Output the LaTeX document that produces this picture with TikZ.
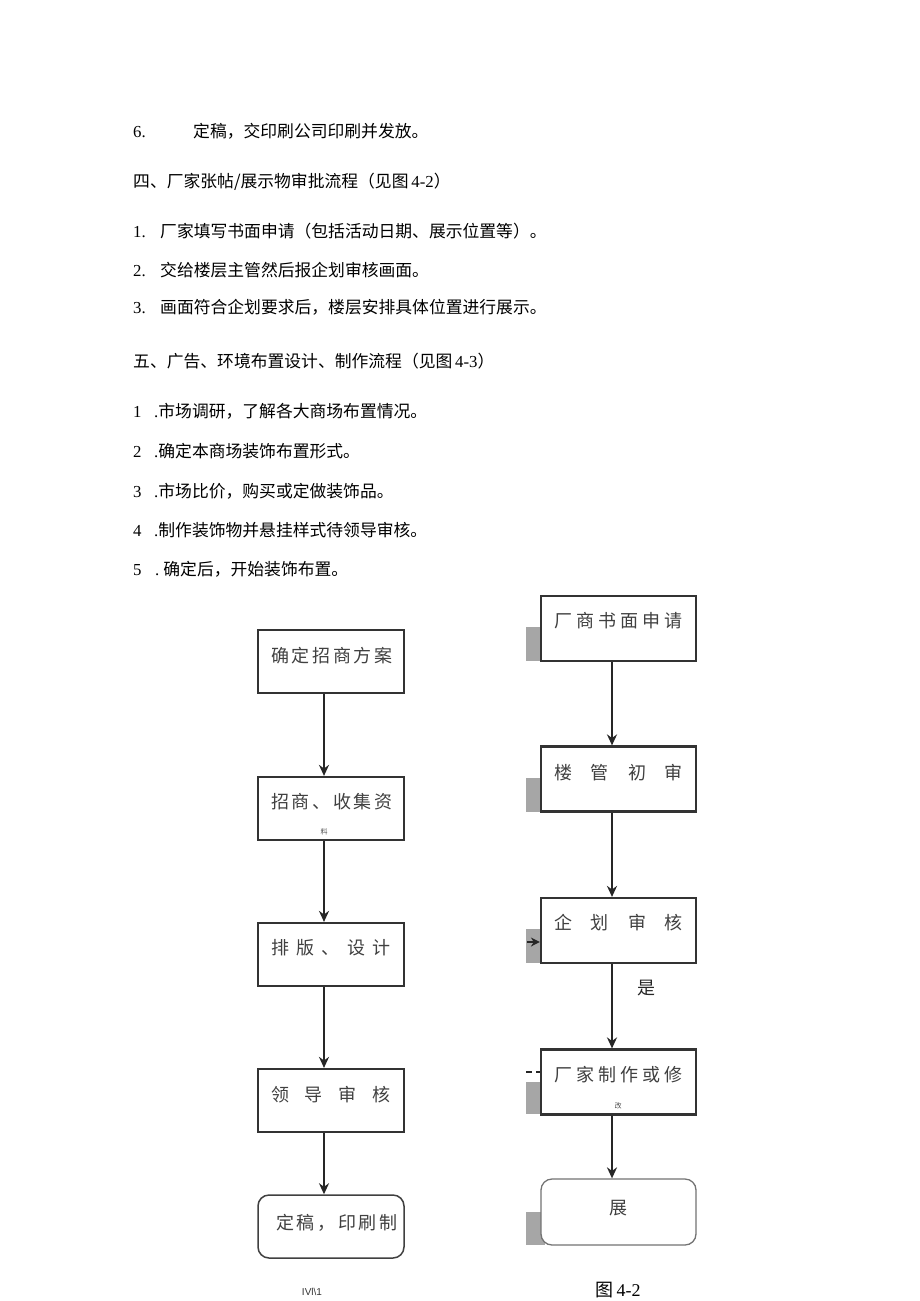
\documentclass[tikz,border=0pt]{standalone}
\usepackage{fontspec}
\setmainfont{Liberation Serif}
\newfontfamily\cjk{Noto Sans CJK SC}
\setsansfont{Liberation Sans}
\usetikzlibrary{arrows.meta}
\newcommand\zh[1]{{\cjk #1}}
\begin{document}
\begin{tikzpicture}[x=1pt,y=-1pt,
  txt/.style={anchor=west,inner sep=0pt,font=\fontsize{16.8}{16.8}\selectfont},
  lbox/.style={draw=black!80,line width=2.2pt,minimum width=146pt,minimum height=63pt,inner sep=0pt},
  rbox/.style={draw=black!80,line width=2.2pt,minimum width=155pt,minimum height=65pt,inner sep=0pt},
  lround/.style={draw=black!75,line width=1.5pt,rounded corners=11pt,minimum width=146pt,minimum height=63pt,inner sep=0pt},
  rround/.style={draw=black!55,line width=1.3pt,rounded corners=11pt,minimum width=155pt,minimum height=66pt,inner sep=0pt},
  blbl/.style={inner sep=0pt,text=black!75,font=\cjk\fontsize{18}{18}\selectfont},
  tiny/.style={inner sep=0pt,text=black!70,font=\cjk\fontsize{7}{7}\selectfont},
  arr/.style={line width=1.9pt,draw=black!85,-{Stealth[length=11pt,width=10pt]}},
  shadow/.style={fill=black!35,draw=none}
]
\useasboundingbox (0,0) rectangle (920,1301);
\fill[white] (0,0) rectangle (920,1301);

% body text
\node[txt] (l6) at (133,131) {\makebox[60pt][l]{6.}\zh{定稿，交印刷公司印刷并发放。}};
\node[txt] (h4) at (133,182) {\zh{四、厂家张帖/展示物审批流程（见图}\,4-2\zh{）}};
\node[txt] (a1) at (133,231) {\makebox[27pt][l]{1.}\zh{厂家填写书面申请（包括活动日期、展示位置等）。}};
\node[txt] (a2) at (133,270) {\makebox[27pt][l]{2.}\zh{交给楼层主管然后报企划审核画面。}};
\node[txt] (a3) at (133,307) {\makebox[27pt][l]{3.}\zh{画面符合企划要求后，楼层安排具体位置进行展示。}};
\node[txt] (h5) at (133,361) {\zh{五、广告、环境布置设计、制作流程（见图}\,4-3\zh{）}};
\node[txt] (b1) at (133,411) {\makebox[21pt][l]{1}.\zh{市场调研，了解各大商场布置情况。}};
\node[txt] (b2) at (133,451) {\makebox[21pt][l]{2}.\zh{确定本商场装饰布置形式。}};
\node[txt] (b3) at (133,491) {\makebox[21pt][l]{3}.\zh{市场比价，购买或定做装饰品。}};
\node[txt] (b4) at (133,530) {\makebox[21pt][l]{4}.\zh{制作装饰物并悬挂样式待领导审核。}};
\node[txt] (b5) at (133,569) {\makebox[22pt][l]{5}.\hspace{4pt}\zh{确定后，开始装饰布置。}};

% left flowchart
\coordinate (axL) at (324,0);
\node[lbox] (L1) at (331,661.5) {};
\node[lbox] (L2) at (331,808.5) {};
\node[lbox] (L3) at (331,954.5) {};
\node[lbox] (L4) at (331,1100.5) {};
\node[lround] (L5) at (331,1226.5) {};
\node[blbl] (L1t) at (331,656) {\makebox[120pt][s]{确 定 招 商 方 案}};
\node[blbl] (L2t) at (331,802) {\makebox[120pt][s]{招 商 、 收 集 资}};
\node[tiny] (L2s) at (324,832) {料};
\node[blbl] (L3t) at (331,948) {\makebox[120pt][s]{排 版 、 设 计}};
\node[blbl] (L4t) at (331,1095) {\makebox[120pt][s]{领 导 审 核}};
\node[blbl] (L5t) at (331,1223) {\makebox[110pt][s]{定 稿 ， 印 刷 制}};
\draw[arr] (L1.south -| axL) -- (L2.north -| axL);
\draw[arr] (L2.south -| axL) -- (L3.north -| axL);
\draw[arr] (L3.south -| axL) -- (L4.north -| axL);
\draw[arr] (L4.south -| axL) -- (L5.north -| axL);
\node[inner sep=0pt,font=\sffamily\fontsize{10}{10}\selectfont,text=black!80] (capL) at (312,1292) {IVl\textbackslash1};

% right flowchart shadows
\fill[shadow] (526,627) rectangle (541,661);
\fill[shadow] (526,778) rectangle (541,812);
\fill[shadow] (526,929) rectangle (541,963);
\fill[shadow] (526,1082) rectangle (541,1114);
\fill[shadow] (526,1212) rectangle (545,1245);

% right flowchart
\coordinate (axR) at (612,0);
\node[rbox] (R1) at (618.5,628.5) {};
\node[rbox] (R2) at (618.5,779) {};
\node[rbox] (R3) at (618.5,930.5) {};
\node[rbox] (R4) at (618.5,1082) {};
\node[rround,fill=white] (R5) at (618.5,1212) {};
\node[blbl] (R1t) at (618.5,621) {\makebox[129pt][s]{厂 商 书 面 申 请}};
\node[blbl] (R2t) at (618.5,773) {\makebox[129pt][s]{楼 管 初 审}};
\node[blbl] (R3t) at (618.5,923) {\makebox[129pt][s]{企 划 审 核}};
\node[blbl] (R4t) at (618.5,1075) {\makebox[129pt][s]{厂 家 制 作 或 修}};
\node[tiny] (R4s) at (618,1106) {改};
\node[blbl] (R5t) at (618,1208) {展};
\node[blbl,text=black!85] (yes) at (646,988) {是};
\draw[arr] (R1.south -| axR) -- (R2.north -| axR);
\draw[arr] (R2.south -| axR) -- (R3.north -| axR);
\draw[arr] (R3.south -| axR) -- (R4.north -| axR);
\draw[arr] (R4.south -| axR) -- (R5.north -| axR);
\coordinate (in3) at (527,942);
\draw[line width=1.9pt,draw=black!85,-{Stealth[length=9pt,width=9pt]}] (in3) -- (in3 -| R3.west);
\coordinate (in4) at (526,1072);
\draw[line width=1.9pt,draw=black!85,dash pattern=on 6pt off 4pt] (in4) -- (in4 -| R4.west);
\node[inner sep=0pt,font=\fontsize{18}{18}\selectfont] (capR) at (618,1290) {\zh{图}\,4-2};
\end{tikzpicture}
\end{document}
